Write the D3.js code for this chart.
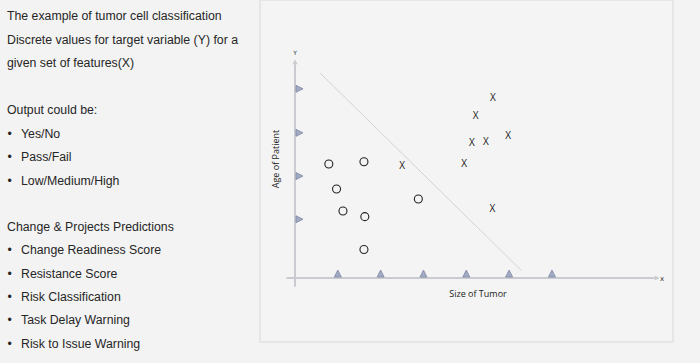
<!DOCTYPE html>
<html><head><meta charset="utf-8">
<script src="https://cdn.jsdelivr.net/npm/d3@7"></script>
<style>html,body{margin:0;padding:0;background:#f3f3f3;}svg{display:block;}</style>
</head><body>
<svg id="c" width="700" height="363"></svg>
<script>
// ---- data ----
const introLines = ["The example of tumor cell classification", "Discrete values for target variable (Y) for a", "given set of features(X)"];
const outputTitle = "Output could be:";
const outputItems = ["Yes/No", "Pass/Fail", "Low/Medium/High"];
const predTitle = "Change & Projects Predictions";
const predItems = ["Change Readiness Score", "Resistance Score", "Risk Classification", "Task Delay Warning", "Risk to Issue Warning"];

const xTickValues = [1, 2, 3, 4, 5, 6];
const yTickValues = [1.36, 2.36, 3.36, 4.38];
// benign (circles): [size, age]
const circlePoints = [[0.79, 2.64], [1.61, 2.69], [0.97, 2.06], [1.12, 1.55], [1.63, 1.42], [1.61, 0.66], [2.88, 1.83]];
// malignant (crosses): [size, age]
const crossPoints = [[4.62, 4.17], [4.22, 3.76], [4.13, 3.14], [4.46, 3.17], [4.98, 3.30], [3.95, 2.66], [2.50, 2.60], [4.61, 1.60]];
const boundary = [[0.58, 4.75], [5.29, 0.17]];
const xLabel = "Size of Tumor", yLabel = "Age of Patient";

// ---- drawing ----
const svg = d3.select("#c");
svg.append("rect").attr("width", 700).attr("height", 363).attr("fill", "#f3f3f3");

// left text
const tg = svg.append("g").attr("font-family", "'Liberation Sans', Arial, sans-serif").attr("font-size", 12.3).attr("fill", "#262626");
const lines = [];
introLines.forEach((t, i) => lines.push({t, y: 16 + i * 23.5, b: false}));
lines.push({t: outputTitle, y: 110, b: false});
outputItems.forEach((t, i) => lines.push({t, y: 133.3 + i * 23.5, b: true}));
lines.push({t: predTitle, y: 226.5, b: false});
predItems.forEach((t, i) => lines.push({t, y: 250 + i * 23.3, b: true}));
lines.forEach(l => {
  if (l.b) tg.append("text").attr("x", 7.5).attr("y", l.y).attr("dy", "0.35em").text("•");
  tg.append("text").attr("x", l.b ? 21 : 7).attr("y", l.y).attr("dy", "0.35em").text(l.t);
});

// panel
svg.append("rect").attr("x", 260).attr("y", 0).attr("width", 413).attr("height", 342)
  .attr("fill", "#f4f4f4").attr("stroke", "#e6e6e6").attr("stroke-width", 2);

const x = d3.scaleLinear().domain([0, 8.5]).range([295, 659]);
const y = d3.scaleLinear().domain([0, 5]).range([278, 62]);

const axisColor = "#c9cbd0";
// x axis
const xAxis = svg.append("g").attr("transform", `translate(0,${y(0)})`)
  .call(d3.axisBottom(x).tickValues(xTickValues).tickSize(0).tickFormat(""));
xAxis.select(".domain").attr("d", `M${x(-0.2)},0H${x(8.4)}`).attr("stroke", axisColor).attr("stroke-width", 2);
svg.append("path").attr("d", `M${x(8.4)},${y(0)-2.5}L${x(8.4)+5},${y(0)}L${x(8.4)},${y(0)+2.5}Z`).attr("fill", axisColor);
// y axis
const yAxis = svg.append("g").attr("transform", `translate(${x(0)},0)`)
  .call(d3.axisLeft(y).tickValues(yTickValues).tickSize(0).tickFormat(""));
yAxis.select(".domain").attr("d", `M0,${y(-0.2)}V${y(4.95)}`).attr("stroke", axisColor).attr("stroke-width", 2);
svg.append("path").attr("d", `M${x(0)-2.5},${y(4.95)}L${x(0)},${y(4.95)-5}L${x(0)+2.5},${y(4.95)}Z`).attr("fill", axisColor);

svg.append("text").attr("x", x(0)).attr("y", 55).attr("text-anchor", "middle")
  .attr("font-family", "'DejaVu Sans', sans-serif").attr("font-size", 6).attr("fill", "#333").text("Y");
svg.append("text").attr("x", 662).attr("y", y(0)+1).attr("dy", "0.35em").attr("text-anchor", "middle")
  .attr("font-family", "'DejaVu Sans', sans-serif").attr("font-size", 7).attr("fill", "#333").text("x");

// triangle ticks
const triFill = "#a3abc3", triStroke = "#7f89a6";
svg.selectAll(".xt").data(xTickValues).join("path").attr("class", "xt")
  .attr("d", d => { const cx = x(d), b = y(0) - 1; return `M${cx-3.5},${b}L${cx},${b-7}L${cx+3.5},${b}Z`; })
  .attr("fill", triFill).attr("stroke", triStroke).attr("stroke-width", 0.8);
svg.selectAll(".yt").data(yTickValues).join("path").attr("class", "yt")
  .attr("d", d => { const cy = y(d), l = x(0) + 1; return `M${l},${cy-3.5}L${l+7},${cy}L${l},${cy+3.5}Z`; })
  .attr("fill", triFill).attr("stroke", triStroke).attr("stroke-width", 0.8);

// boundary line
svg.append("line").attr("x1", x(boundary[0][0])).attr("y1", y(boundary[0][1]))
  .attr("x2", x(boundary[1][0])).attr("y2", y(boundary[1][1]))
  .attr("stroke", "#cfcfcf").attr("stroke-width", 0.9);

// circles
svg.selectAll(".pc").data(circlePoints).join("circle").attr("class", "pc")
  .attr("cx", d => x(d[0])).attr("cy", d => y(d[1])).attr("r", 4)
  .attr("fill", "none").attr("stroke", "#222").attr("stroke-width", 1.1);
// crosses
svg.selectAll(".px").data(crossPoints).join("text").attr("class", "px")
  .attr("x", d => x(d[0])).attr("y", d => y(d[1])).attr("dy", "0.35em").attr("text-anchor", "middle")
  .attr("font-family", "'Open Sans', sans-serif").attr("font-size", 10).attr("fill", "#1a1a1a").text("X");

// axis labels
svg.append("text").attr("x", 478).attr("y", 294).attr("dy", "0.35em").attr("text-anchor", "middle")
  .attr("font-family", "'Open Sans', sans-serif").attr("font-size", 9).attr("fill", "#222").text(xLabel);
svg.append("text").attr("transform", "translate(276,159) rotate(-90)").attr("dy", "0.35em").attr("text-anchor", "middle")
  .attr("font-family", "'Open Sans', sans-serif").attr("font-size", 9).attr("fill", "#222").text(yLabel);
</script>
</body></html>
